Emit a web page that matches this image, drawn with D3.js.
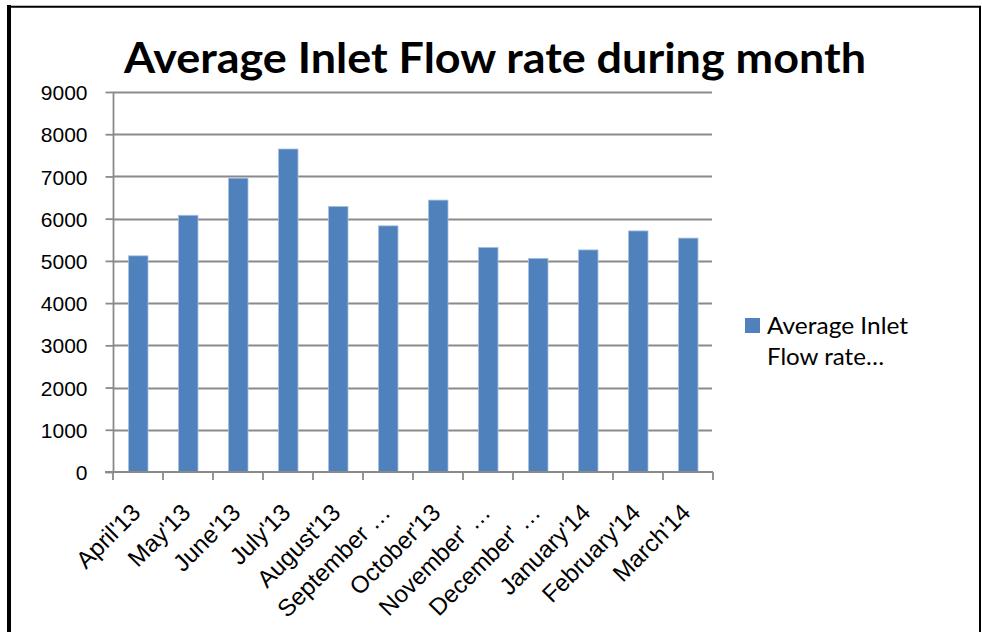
<!DOCTYPE html>
<html>
<head>
<meta charset="utf-8">
<script src="https://cdn.jsdelivr.net/npm/d3@7"></script>
<style>
  html, body { margin: 0; padding: 0; background: #fff; }
  svg { display: block; }
</style>
</head>
<body>
<svg id="chart" width="982" height="632"></svg>
<script>
// Monthly average inlet flow rate, April 2013 – March 2014
const months = ["April'13", "May'13", "June'13", "July'13", "August'13", "September'13",
                "October'13", "November'13", "December'13", "January'14", "February'14", "March'14"];
const monthLabels = ["April'13", "May'13", "June'13", "July'13", "August'13", "September …",
                     "October'13", "November' …", "December' …", "January'14", "February'14", "March'14"];
const flowRate = [5120, 6080, 6960, 7650, 6290, 5830, 6440, 5320, 5060, 5260, 5710, 5540];
const yTicks = [0, 1000, 2000, 3000, 4000, 5000, 6000, 7000, 8000, 9000];
const titleText = "Average Inlet Flow rate during month";
const legendLines = ["Average Inlet", "Flow rate…"];

const svg = d3.select("#chart");
const barColor = "#4F81BD";
const gridColor = "#8a8a8a";
const axisFont = "'Liberation Sans', Arial, sans-serif";
const textFont = "Lato, 'Open Sans', sans-serif";

// frame
svg.append("rect").attr("width", 982).attr("height", 632).attr("fill", "#fff");
svg.append("line").attr("x1", 9).attr("x2", 9).attr("y1", 5).attr("y2", 632)
  .attr("stroke", "#000").attr("stroke-width", 4);
svg.append("line").attr("x1", 7).attr("x2", 981).attr("y1", 6.8).attr("y2", 6.8)
  .attr("stroke", "#000").attr("stroke-width", 2);
svg.append("line").attr("x1", 980).attr("x2", 980).attr("y1", 6).attr("y2", 632)
  .attr("stroke", "#000").attr("stroke-width", 2);

// scales
const x = d3.scaleBand().domain(months).range([113, 713]).padding(0);
const y = d3.scaleLinear().domain([0, 9000]).range([472, 92]);

// horizontal gridlines
svg.append("g").selectAll("line").data(yTicks.filter(t => t > 0)).join("line")
  .attr("x1", 113).attr("x2", 712)
  .attr("y1", d => Math.round(y(d)) + 0.5).attr("y2", d => Math.round(y(d)) + 0.5)
  .attr("stroke", gridColor).attr("stroke-width", 1.8);

// bars
svg.append("g").selectAll("rect").data(flowRate).join("rect")
  .attr("x", (d, i) => x(months[i]) + x.bandwidth() * 0.31)
  .attr("width", x.bandwidth() * 0.39)
  .attr("y", d => y(d))
  .attr("height", d => y(0) - y(d))
  .attr("fill", barColor)
  .attr("stroke", "#a9c0de").attr("stroke-width", 0.8);

// y axis
const yAxis = svg.append("g").attr("transform", "translate(113.5,0)")
  .call(d3.axisLeft(y).tickValues(yTicks).tickSize(8).tickPadding(18).tickFormat(d3.format("d")));
yAxis.select(".domain").attr("stroke", gridColor).attr("stroke-width", 1.8)
  .attr("d", `M0,${y(9000)}V${y(0)}`);
yAxis.selectAll(".tick line").attr("stroke", gridColor).attr("stroke-width", 1.8);
yAxis.selectAll(".tick text").attr("font-family", axisFont).attr("font-size", 21)
  .attr("fill", "#000").attr("dy", "0.36em");

// x axis baseline and tick marks at category boundaries
const xAxis = svg.append("g");
xAxis.append("line").attr("x1", 105).attr("x2", 713)
  .attr("y1", y(0)).attr("y2", y(0)).attr("stroke", gridColor).attr("stroke-width", 1.8);
const edges = months.map(m => x(m)).concat([x.range()[1]]);
xAxis.selectAll("line.edge").data(edges).join("line").attr("class", "edge")
  .attr("x1", d => d).attr("x2", d => d)
  .attr("y1", y(0)).attr("y2", y(0) + 8)
  .attr("stroke", gridColor).attr("stroke-width", 1.8);
xAxis.selectAll("text").data(months).join("text")
  .attr("transform", d => `translate(${x(d) + x.bandwidth() / 2 + 4},514) rotate(-45)`)
  .attr("text-anchor", "end")
  .attr("font-family", axisFont).attr("font-size", 24).attr("fill", "#000")
  .text((d, i) => monthLabels[i]);

// title
svg.append("text").attr("x", 495).attr("y", 73).attr("text-anchor", "middle")
  .attr("font-family", textFont).attr("font-weight", 700).attr("font-size", 42)
  .attr("textLength", 742).attr("lengthAdjust", "spacingAndGlyphs")
  .attr("fill", "#000").text(titleText);

// legend
const legend = svg.append("g");
legend.append("rect").attr("x", 745).attr("y", 318).attr("width", 15).attr("height", 15)
  .attr("fill", barColor);
legend.selectAll("text").data(legendLines).join("text")
  .attr("x", 767).attr("y", (d, i) => 334 + i * 31)
  .attr("font-family", textFont).attr("font-size", 23).attr("fill", "#000")
  .attr("textLength", (d, i) => i === 0 ? 141 : 117).attr("lengthAdjust", "spacingAndGlyphs")
  .text(d => d);
</script>
</body>
</html>
